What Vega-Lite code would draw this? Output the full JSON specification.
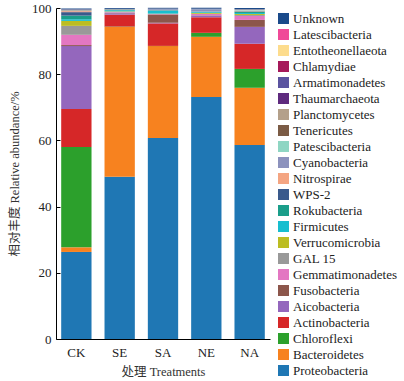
{
  "$schema": "https://vega.github.io/schema/vega-lite/v6.json",
  "autosize": {"type": "none"},
  "padding": {"left": 56, "top": 8, "right": 134, "bottom": 42},
  "width": 214,
  "height": 331,
  "background": "white",
  "config": {
    "view": {"stroke": null},
    "font": "Liberation Serif, Noto Sans CJK SC",
    "axis": {"labelFont": "Liberation Serif", "labelFontSize": 13, "labelColor": "#222", "titleFont": "Liberation Serif, Noto Sans CJK SC", "titleFontSize": 12.5, "titleFontWeight": "normal", "titleColor": "#333", "domainColor": "#000", "tickColor": "#000", "grid": false},
    "legend": {"labelFont": "Liberation Serif", "labelFontSize": 13, "labelColor": "#222"}
  },
  "data": {"values": [
    {"t":"CK","p":"Proteobacteria","v":26.3,"o":1},
    {"t":"CK","p":"Bacteroidetes","v":1.4,"o":2},
    {"t":"CK","p":"Chloroflexi","v":30.3,"o":3},
    {"t":"CK","p":"Actinobacteria","v":11.5,"o":4},
    {"t":"CK","p":"Aicobacteria","v":19.0,"o":5},
    {"t":"CK","p":"Fusobacteria","v":0.3,"o":6},
    {"t":"CK","p":"Gemmatimonadetes","v":3.1,"o":7},
    {"t":"CK","p":"GAL 15","v":2.7,"o":8},
    {"t":"CK","p":"Verrucomicrobia","v":1.5,"o":9},
    {"t":"CK","p":"Firmicutes","v":0.5,"o":10},
    {"t":"CK","p":"Rokubacteria","v":1.1,"o":11},
    {"t":"CK","p":"WPS-2","v":1.05,"o":12},
    {"t":"CK","p":"Nitrospirae","v":0.3,"o":13},
    {"t":"CK","p":"Cyanobacteria","v":0.1,"o":14},
    {"t":"CK","p":"Patescibacteria","v":0.1,"o":15},
    {"t":"CK","p":"Tenericutes","v":0.1,"o":16},
    {"t":"CK","p":"Planctomycetes","v":0.1,"o":17},
    {"t":"CK","p":"Thaumarchaeota","v":0.02,"o":18},
    {"t":"CK","p":"Armatimonadetes","v":0.02,"o":19},
    {"t":"CK","p":"Chlamydiae","v":0.02,"o":20},
    {"t":"CK","p":"Entotheonellaeota","v":0.02,"o":21},
    {"t":"CK","p":"Latescibacteria","v":0.02,"o":22},
    {"t":"CK","p":"Unknown","v":0.3,"o":23},
    {"t":"SE","p":"Proteobacteria","v":49.0,"o":1},
    {"t":"SE","p":"Bacteroidetes","v":45.3,"o":2},
    {"t":"SE","p":"Chloroflexi","v":0.1,"o":3},
    {"t":"SE","p":"Actinobacteria","v":3.6,"o":4},
    {"t":"SE","p":"Aicobacteria","v":0.4,"o":5},
    {"t":"SE","p":"Fusobacteria","v":0.1,"o":6},
    {"t":"SE","p":"Gemmatimonadetes","v":0.2,"o":7},
    {"t":"SE","p":"GAL 15","v":0.2,"o":8},
    {"t":"SE","p":"Verrucomicrobia","v":0.1,"o":9},
    {"t":"SE","p":"Firmicutes","v":0.3,"o":10},
    {"t":"SE","p":"Rokubacteria","v":0.15,"o":11},
    {"t":"SE","p":"WPS-2","v":0.1,"o":12},
    {"t":"SE","p":"Nitrospirae","v":0.03,"o":13},
    {"t":"SE","p":"Cyanobacteria","v":0.03,"o":14},
    {"t":"SE","p":"Patescibacteria","v":0.03,"o":15},
    {"t":"SE","p":"Tenericutes","v":0.03,"o":16},
    {"t":"SE","p":"Planctomycetes","v":0.03,"o":17},
    {"t":"SE","p":"Thaumarchaeota","v":0.01,"o":18},
    {"t":"SE","p":"Armatimonadetes","v":0.01,"o":19},
    {"t":"SE","p":"Chlamydiae","v":0.01,"o":20},
    {"t":"SE","p":"Entotheonellaeota","v":0.01,"o":21},
    {"t":"SE","p":"Latescibacteria","v":0.01,"o":22},
    {"t":"SE","p":"Unknown","v":0.25,"o":23},
    {"t":"SA","p":"Proteobacteria","v":60.7,"o":1},
    {"t":"SA","p":"Bacteroidetes","v":27.8,"o":2},
    {"t":"SA","p":"Chloroflexi","v":0.05,"o":3},
    {"t":"SA","p":"Actinobacteria","v":6.8,"o":4},
    {"t":"SA","p":"Aicobacteria","v":0.2,"o":5},
    {"t":"SA","p":"Fusobacteria","v":2.5,"o":6},
    {"t":"SA","p":"Gemmatimonadetes","v":0.1,"o":7},
    {"t":"SA","p":"GAL 15","v":0.1,"o":8},
    {"t":"SA","p":"Verrucomicrobia","v":0.05,"o":9},
    {"t":"SA","p":"Firmicutes","v":0.9,"o":10},
    {"t":"SA","p":"Rokubacteria","v":0.1,"o":11},
    {"t":"SA","p":"WPS-2","v":0.05,"o":12},
    {"t":"SA","p":"Nitrospirae","v":0.02,"o":13},
    {"t":"SA","p":"Cyanobacteria","v":0.3,"o":14},
    {"t":"SA","p":"Patescibacteria","v":0.05,"o":15},
    {"t":"SA","p":"Tenericutes","v":0.02,"o":16},
    {"t":"SA","p":"Planctomycetes","v":0.02,"o":17},
    {"t":"SA","p":"Thaumarchaeota","v":0.01,"o":18},
    {"t":"SA","p":"Armatimonadetes","v":0.01,"o":19},
    {"t":"SA","p":"Chlamydiae","v":0.01,"o":20},
    {"t":"SA","p":"Entotheonellaeota","v":0.01,"o":21},
    {"t":"SA","p":"Latescibacteria","v":0.01,"o":22},
    {"t":"SA","p":"Unknown","v":0.25,"o":23},
    {"t":"NE","p":"Proteobacteria","v":73.1,"o":1},
    {"t":"NE","p":"Bacteroidetes","v":18.2,"o":2},
    {"t":"NE","p":"Chloroflexi","v":1.2,"o":3},
    {"t":"NE","p":"Actinobacteria","v":4.7,"o":4},
    {"t":"NE","p":"Aicobacteria","v":0.5,"o":5},
    {"t":"NE","p":"Fusobacteria","v":0.1,"o":6},
    {"t":"NE","p":"Gemmatimonadetes","v":0.4,"o":7},
    {"t":"NE","p":"GAL 15","v":0.05,"o":8},
    {"t":"NE","p":"Verrucomicrobia","v":0.3,"o":9},
    {"t":"NE","p":"Firmicutes","v":0.3,"o":10},
    {"t":"NE","p":"Rokubacteria","v":0.05,"o":11},
    {"t":"NE","p":"WPS-2","v":0.03,"o":12},
    {"t":"NE","p":"Nitrospirae","v":0.03,"o":13},
    {"t":"NE","p":"Cyanobacteria","v":0.7,"o":14},
    {"t":"NE","p":"Patescibacteria","v":0.03,"o":15},
    {"t":"NE","p":"Tenericutes","v":0.02,"o":16},
    {"t":"NE","p":"Planctomycetes","v":0.02,"o":17},
    {"t":"NE","p":"Thaumarchaeota","v":0.01,"o":18},
    {"t":"NE","p":"Armatimonadetes","v":0.01,"o":19},
    {"t":"NE","p":"Chlamydiae","v":0.01,"o":20},
    {"t":"NE","p":"Entotheonellaeota","v":0.01,"o":21},
    {"t":"NE","p":"Latescibacteria","v":0.01,"o":22},
    {"t":"NE","p":"Unknown","v":0.3,"o":23},
    {"t":"NA","p":"Proteobacteria","v":58.6,"o":1},
    {"t":"NA","p":"Bacteroidetes","v":17.3,"o":2},
    {"t":"NA","p":"Chloroflexi","v":5.7,"o":3},
    {"t":"NA","p":"Actinobacteria","v":7.6,"o":4},
    {"t":"NA","p":"Aicobacteria","v":5.1,"o":5},
    {"t":"NA","p":"Fusobacteria","v":2.1,"o":6},
    {"t":"NA","p":"Gemmatimonadetes","v":1.2,"o":7},
    {"t":"NA","p":"GAL 15","v":0.3,"o":8},
    {"t":"NA","p":"Verrucomicrobia","v":0.3,"o":9},
    {"t":"NA","p":"Firmicutes","v":0.3,"o":10},
    {"t":"NA","p":"Rokubacteria","v":0.4,"o":11},
    {"t":"NA","p":"WPS-2","v":0.1,"o":12},
    {"t":"NA","p":"Nitrospirae","v":0.2,"o":13},
    {"t":"NA","p":"Cyanobacteria","v":0.05,"o":14},
    {"t":"NA","p":"Patescibacteria","v":0.2,"o":15},
    {"t":"NA","p":"Tenericutes","v":0.05,"o":16},
    {"t":"NA","p":"Planctomycetes","v":0.05,"o":17},
    {"t":"NA","p":"Thaumarchaeota","v":0.01,"o":18},
    {"t":"NA","p":"Armatimonadetes","v":0.01,"o":19},
    {"t":"NA","p":"Chlamydiae","v":0.01,"o":20},
    {"t":"NA","p":"Entotheonellaeota","v":0.01,"o":21},
    {"t":"NA","p":"Latescibacteria","v":0.01,"o":22},
    {"t":"NA","p":"Unknown","v":0.4,"o":23}
  ]},
  "mark": {"type": "bar"},
  "encoding": {
    "x": {"field": "t", "type": "nominal", "sort": ["CK", "SE", "SA", "NE", "NA"],
      "scale": {"paddingInner": 0.3, "paddingOuter": 0.12},
      "axis": {"title": "处理 Treatments", "labelAngle": 0, "ticks": false, "labelPadding": 7, "titlePadding": 6}},
    "y": {"field": "v", "type": "quantitative", "stack": "zero",
      "scale": {"domain": [0, 100], "nice": false},
      "axis": {"title": "相对丰度 Relative abundance/%", "values": [0, 20, 40, 60, 80, 100], "tickSize": -4, "labelPadding": 9, "titlePadding": 10}},
    "order": {"field": "o", "type": "quantitative", "sort": "ascending"},
    "color": {"field": "p", "type": "nominal",
      "scale": {
        "domain": ["Unknown", "Latescibacteria", "Entotheonellaeota", "Chlamydiae", "Armatimonadetes", "Thaumarchaeota", "Planctomycetes", "Tenericutes", "Patescibacteria", "Cyanobacteria", "Nitrospirae", "WPS-2", "Rokubacteria", "Firmicutes", "Verrucomicrobia", "GAL 15", "Gemmatimonadetes", "Fusobacteria", "Aicobacteria", "Actinobacteria", "Chloroflexi", "Bacteroidetes", "Proteobacteria"],
        "range": ["#1a4a8a", "#f04a98", "#fddc8d", "#a6195a", "#5b54a0", "#5e2a7e", "#b4a08a", "#7b5b45", "#8fd6c3", "#8c92bd", "#f4a582", "#3a5a8c", "#1a9e8a", "#17becf", "#bcbd22", "#999999", "#e377c2", "#8c564b", "#9467bd", "#d62728", "#2ca02c", "#f7821f", "#1f77b4"]
      },
      "legend": {"title": null, "orient": "none", "legendX": 221, "legendY": 4, "symbolType": "square", "symbolSize": 121, "symbolStrokeWidth": 0, "rowPadding": 2, "labelOffset": 3, "symbolOpacity": 1}}
  }
}
